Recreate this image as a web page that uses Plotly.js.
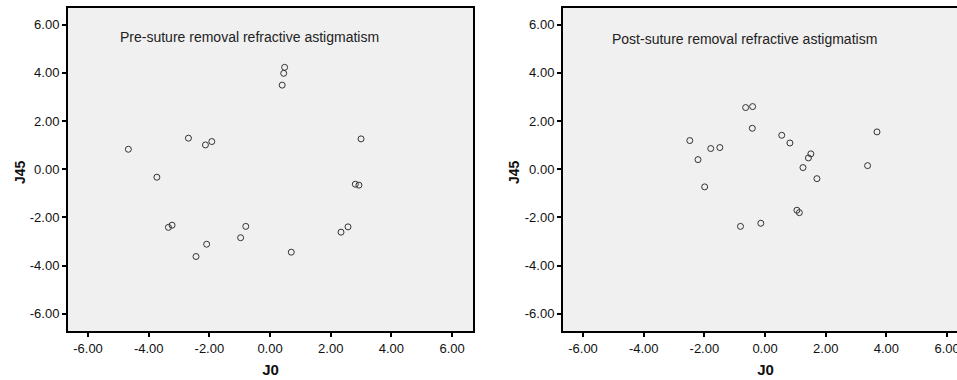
<!DOCTYPE html>
<html>
<head>
<meta charset="utf-8">
<script src="https://cdn.plot.ly/plotly-3.0.1.min.js"></script>
<style>
html,body{margin:0;padding:0;overflow:hidden;background:#fff;}
#chart{width:1000px;height:380px;}
</style>
</head>
<body>
<div id="chart"></div>
<script>
// Pre-suture removal (J0, J45)
const preJ0  = [0.48, 0.45, 0.40, 3.00, -4.67, -2.69, -2.13, -1.92, -3.73, 2.81, 2.93, -3.35, -3.23, -0.80, -0.97, -2.09, -2.44, 0.70, 2.34, 2.57];
const preJ45 = [4.23, 3.98, 3.49, 1.26, 0.83, 1.29, 1.01, 1.15, -0.33, -0.62, -0.66, -2.41, -2.32, -2.37, -2.84, -3.11, -3.62, -3.44, -2.61, -2.39];
// Post-suture removal (J0, J45)
const postJ0  = [-0.64, -0.41, -0.42, -2.48, -1.79, -1.49, -2.21, -1.99, 0.55, 0.82, 1.51, 1.43, 1.25, 1.71, 3.69, 3.38, 1.05, 1.13, -0.81, -0.14];
const postJ45 = [2.56, 2.60, 1.70, 1.19, 0.86, 0.90, 0.40, -0.73, 1.41, 1.09, 0.64, 0.47, 0.07, -0.39, 1.55, 0.15, -1.70, -1.80, -2.37, -2.24];
const tickVals = [-6, -4, -2, 0, 2, 4, 6];
const tickText = ["-6.00", "-4.00", "-2.00", "0.00", "2.00", "4.00", "6.00"];
const titles = ["Pre-suture removal refractive astigmatism", "Post-suture removal refractive astigmatism"];
const xTitle = "J0", yTitle = "J45";

const W = 1000, H = 380;
const FONT = 'Liberation Sans, Arial, sans-serif';
const marker = {symbol: 'circle-open', size: 6, color: '#333', line: {width: 1, color: '#333'}};
const traces = [
  {x: preJ0, y: preJ45, type: 'scatter', mode: 'markers', marker: marker, xaxis: 'x', yaxis: 'y', hoverinfo: 'none'},
  {x: postJ0, y: postJ45, type: 'scatter', mode: 'markers', marker: marker, xaxis: 'x2', yaxis: 'y2', hoverinfo: 'none'}
];
const tickFont = {family: FONT, size: 13, color: '#111'};
const titleFont = {family: FONT, size: 15, color: '#111', weight: 'bold'};
function xa(dom) {
  return {domain: dom, range: [-6.66, 6.69], tickvals: tickVals, ticktext: tickText, ticks: 'outside', ticklen: 4, tickwidth: 2, tickcolor: '#000',
    showline: true, linecolor: '#000', linewidth: 2, mirror: true, showgrid: false, zeroline: false, tickfont: tickFont,
    title: {text: xTitle, font: titleFont, standoff: 10}};
}
function ya(anchor) {
  return {domain: [49 / H, 372 / H], range: [-6.71, 6.69], tickvals: tickVals, ticktext: tickText, ticks: 'outside', ticklen: 4, tickwidth: 2, tickcolor: '#000',
    showline: true, linecolor: '#000', linewidth: 2, mirror: true, showgrid: false, zeroline: false, tickfont: tickFont, anchor: anchor};
}
const layout = {
  width: W, height: H,
  margin: {l: 0, r: 0, t: 0, b: 0},
  paper_bgcolor: '#fff', plot_bgcolor: '#f0f0f0',
  showlegend: false,
  xaxis: Object.assign(xa([68 / W, 473 / W]), {anchor: 'y'}),
  yaxis: ya('x'),
  xaxis2: Object.assign(xa([563 / W, 968 / W]), {anchor: 'y2'}),
  yaxis2: ya('x2'),
  annotations: [
    {text: titles[0], xref: 'x', yref: 'y', x: -5.01, y: 5.49, xanchor: 'left', yanchor: 'middle', showarrow: false,
      font: {family: FONT, size: 14, color: '#222'}},
    {text: titles[1], xref: 'x2', yref: 'y2', x: -5.12, y: 5.41, xanchor: 'left', yanchor: 'middle', showarrow: false,
      font: {family: FONT, size: 14, color: '#222'}},
    {text: yTitle, xref: 'paper', yref: 'paper', x: 20 / W, y: 1 - 172 / H, xanchor: 'center', yanchor: 'middle', textangle: -90, showarrow: false,
      font: {family: FONT, size: 14, color: '#111', weight: 'bold'}},
    {text: yTitle, xref: 'paper', yref: 'paper', x: 514 / W, y: 1 - 172 / H, xanchor: 'center', yanchor: 'middle', textangle: -90, showarrow: false,
      font: {family: FONT, size: 14, color: '#111', weight: 'bold'}}
  ]
};
Plotly.newPlot('chart', traces, layout, {displayModeBar: false, staticPlot: true});
</script>
</body>
</html>
